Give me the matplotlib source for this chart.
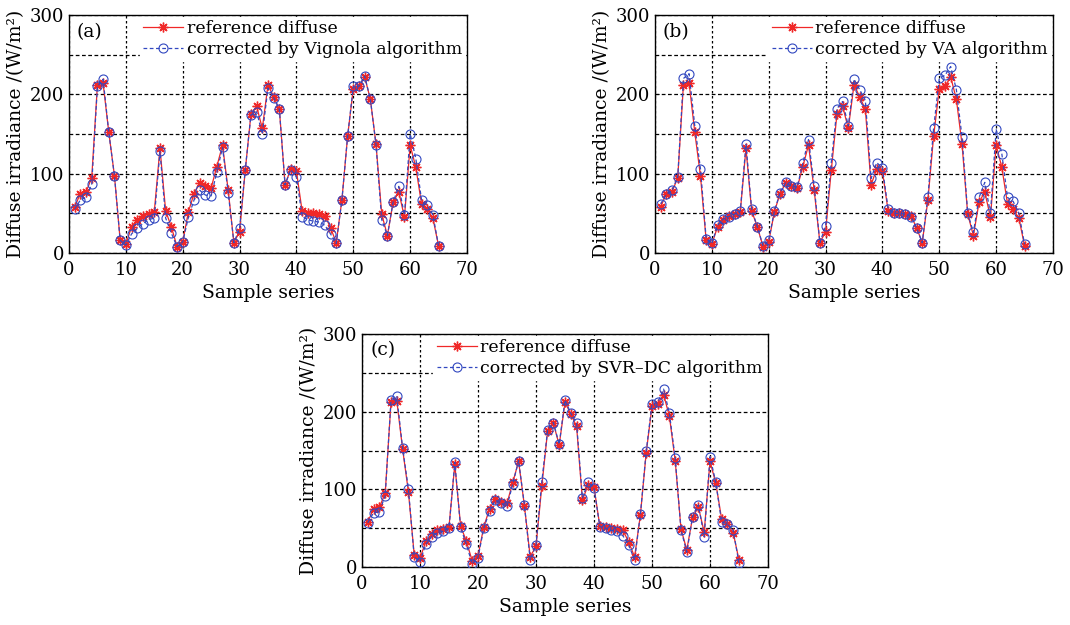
import matplotlib
matplotlib.use("Agg")
import matplotlib.pyplot as plt
from matplotlib.ticker import MultipleLocator

plt.rcParams['font.family'] = ['DejaVu Serif']

# sample index
samples = list(range(1, 66))

# reference diffuse irradiance (W/m2)
ref = [58, 75, 77, 95, 212, 214, 152, 97, 16, 11,
       33, 42, 47, 49, 52, 132, 53, 33, 8, 14,
       52, 75, 88, 84, 82, 109, 136, 79, 13, 27,
       104, 175, 185, 157, 212, 197, 181, 86, 106, 103,
       53, 51, 50, 49, 47, 32, 13, 67, 147, 207,
       210, 222, 194, 137, 49, 22, 64, 77, 45, 136,
       108, 62, 55, 44, 9]

# corrected by Vignola algorithm
vignola = [55, 67, 70, 87, 210, 219, 152, 97, 16, 10,
           24, 31, 37, 42, 44, 128, 44, 25, 8, 14,
           45, 67, 79, 73, 72, 102, 133, 76, 13, 31,
           105, 174, 178, 150, 208, 196, 181, 86, 105, 96,
           46, 42, 40, 39, 35, 24, 12, 67, 147, 210,
           210, 223, 194, 136, 42, 22, 64, 84, 48, 150,
           119, 67, 60, 48, 9]

# corrected by VA algorithm
va = [62, 74, 79, 96, 220, 226, 160, 106, 18, 12,
      35, 43, 46, 49, 53, 137, 55, 33, 9, 16,
      53, 76, 89, 84, 83, 113, 143, 84, 13, 34,
      114, 182, 191, 160, 219, 206, 192, 94, 114, 107,
      56, 50, 50, 49, 46, 32, 13, 71, 157, 220,
      224, 235, 206, 146, 50, 26, 70, 89, 50, 156,
      125, 70, 65, 50, 11]

# corrected by SVR-DC algorithm
svr = [57, 70, 71, 92, 215, 220, 153, 101, 13, 7,
       29, 39, 44, 46, 50, 135, 51, 29, 4, 12,
       50, 72, 86, 82, 78, 107, 137, 80, 9, 28,
       110, 176, 186, 158, 215, 198, 185, 89, 109, 102,
       52, 50, 47, 46, 40, 28, 9, 68, 149, 210,
       212, 229, 198, 140, 48, 19, 65, 80, 39, 142,
       109, 58, 55, 47, 5]

panels = [
    ("(a)", vignola, "corrected by Vignola algorithm", [69, 15, 398, 238]),
    ("(b)", va, "corrected by VA algorithm", [655, 15, 398, 238]),
    ("(c)", svr, "corrected by SVR\u2013DC algorithm", [362, 334, 406, 233]),
]

W, H = 1070, 625
fig = plt.figure(figsize=(W / 100, H / 100), dpi=100)

for tag, corr, corr_label, (px, py, pw, ph) in panels:
    ax = fig.add_axes([px / W, 1 - (py + ph) / H, pw / W, ph / H])
    # MATLAB-style '*' : asterisk marker
    ax.plot(samples, ref, color='#f02828', linestyle='-', linewidth=0.9,
            marker=(8, 2, 0), markersize=7, markeredgewidth=1.0,
            label='reference diffuse', zorder=3)
    ax.plot(samples, corr, color='#3248c0', linestyle=(0, (3, 2)), linewidth=0.9,
            marker='o', markersize=6.5, markerfacecolor='none',
            markeredgewidth=0.8, label=corr_label, zorder=4)

    ax.set_xlim(0, 70)
    ax.set_ylim(0, 300)
    ax.xaxis.set_major_locator(MultipleLocator(10))
    ax.yaxis.set_major_locator(MultipleLocator(100))
    ax.yaxis.set_minor_locator(MultipleLocator(50))
    ax.tick_params(direction='in', labelsize=13, length=3, top=False, right=False)
    ax.tick_params(axis='x', pad=6)
    ax.tick_params(which='minor', direction='in', length=2)

    # grid: dotted verticals, dashed horizontals
    ax.xaxis.grid(True, which='major', color='black', linestyle=(0, (2, 2)), linewidth=0.9)
    ax.yaxis.grid(True, which='both', color='black', linestyle=(0, (3, 2)), linewidth=0.9)
    ax.set_axisbelow(True)
    for s in ax.spines.values():
        s.set_linewidth(1.0)

    ax.set_xlabel('Sample series', fontsize=13.5, labelpad=3)
    ax.set_ylabel('Diffuse irradiance /(W/m\u00b2)', fontsize=13.5, labelpad=3)
    ax.text(0.02, 0.93, tag, transform=ax.transAxes, fontsize=13.5,
            va='center', ha='left', zorder=6)

    leg = ax.legend(loc='upper right', bbox_to_anchor=(1.0, 1.0), borderaxespad=0.1,
                    fontsize=12.5, frameon=True, fancybox=False, framealpha=1,
                    edgecolor='white', facecolor='white', handlelength=2.3,
                    handletextpad=0.2, labelspacing=0.2, borderpad=0.2, numpoints=1)
    leg.set_zorder(5)

fig.savefig('out.png', dpi=100, facecolor='white')
